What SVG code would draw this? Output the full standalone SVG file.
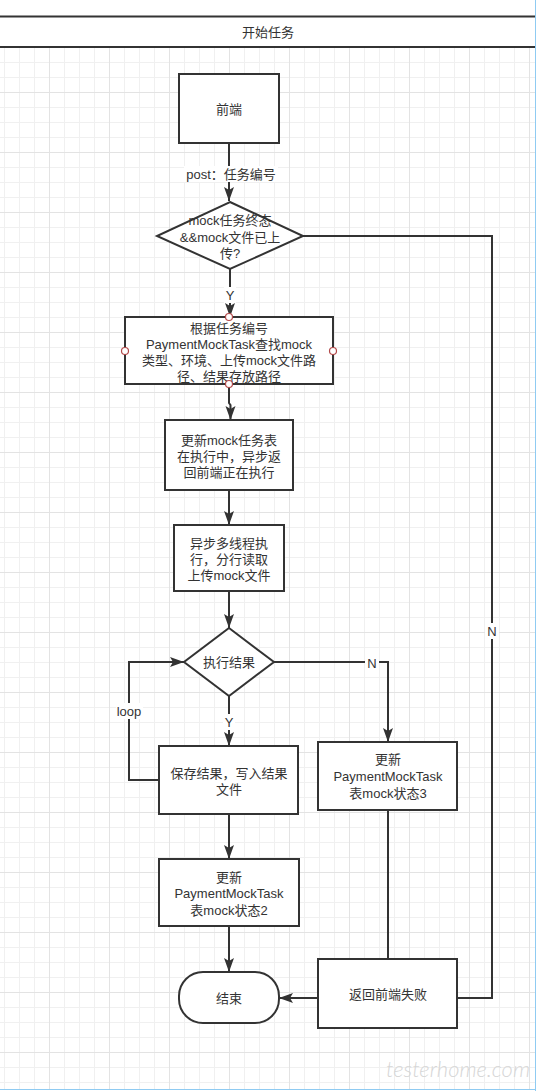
<svg xmlns="http://www.w3.org/2000/svg" width="536" height="1091" viewBox="0 0 536 1091">
<style>
.node rect,.node polygon{fill:#fff;stroke:#333;stroke-width:2}
text{font-family:"Liberation Sans","Noto Sans CJK SC",sans-serif;font-size:13px;fill:#333;text-anchor:middle;dominant-baseline:central}
.conn path{fill:none;stroke:#333;stroke-width:2}
.lbl{fill:#fff}
.pt{fill:#fff;stroke:#b34a4a;stroke-width:1.2}
</style>
<defs>
<pattern id="grid" patternUnits="userSpaceOnUse" x="49" y="32" width="60" height="60">
<rect x="0" y="0" width="60" height="60" fill="#fff"/>
<rect x="15" y="0" width="1" height="60" fill="#f0f0f0"/>
<rect x="30" y="0" width="1" height="60" fill="#f0f0f0"/>
<rect x="45" y="0" width="1" height="60" fill="#f0f0f0"/>
<rect x="0" y="15" width="60" height="1" fill="#f0f0f0"/>
<rect x="0" y="30" width="60" height="1" fill="#f0f0f0"/>
<rect x="0" y="45" width="60" height="1" fill="#f0f0f0"/>
<rect x="0" y="0" width="1" height="60" fill="#e3e3e3"/>
<rect x="0" y="0" width="60" height="1" fill="#e3e3e3"/>
</pattern>
<marker id="arr" markerUnits="userSpaceOnUse" markerWidth="16" markerHeight="12" refX="14" refY="5" orient="auto">
<path d="M0,0 L14,5 L0,10 L3,5 Z" fill="#333"/>
</marker>
</defs>
<rect x="0" y="0" width="536" height="1091" fill="#fff"/>
<rect x="0" y="48" width="535" height="1041" fill="url(#grid)"/>
<line x1="535.5" y1="0" x2="535.5" y2="1091" stroke="#8fcbf2" stroke-width="1"/>
<line x1="0" y1="1089.5" x2="536" y2="1089.5" stroke="#8fcbf2" stroke-width="1"/>

<g id="header">
<line x1="0" y1="16.5" x2="535" y2="16.5" stroke="#333" stroke-width="2"/>
<line x1="0" y1="47" x2="535" y2="47" stroke="#333" stroke-width="2"/>
<text x="268" y="32">开始任务</text>
</g>

<g id="watermark">
<text x="458" y="1068" style="font-family:Lato,'DejaVu Sans',sans-serif;font-size:22px;font-weight:300;font-style:italic;fill:#d6d6d6" textLength="144" lengthAdjust="spacingAndGlyphs">testerhome.com</text>
</g>

<g id="connectors" class="conn">
<path d="M229,143 V201" marker-end="url(#arr)"/>
<path d="M230,269 V317" marker-end="url(#arr)"/>
<path d="M229,384 V403 L230.5,405 V420" marker-end="url(#arr)"/>
<path d="M229,490 V525" marker-end="url(#arr)"/>
<path d="M229,591 V628" marker-end="url(#arr)"/>
<path d="M229,696 V746" marker-end="url(#arr)"/>
<path d="M274,662 H388 V742" marker-end="url(#arr)"/>
<path d="M159,780 H129 V662 H184" marker-end="url(#arr)"/>
<path d="M229,814 V859" marker-end="url(#arr)"/>
<path d="M229,926 V972" marker-end="url(#arr)"/>
<path d="M318,998 H279" marker-end="url(#arr)"/>
<path d="M388,810 V959"/>
<path d="M303,236 H492 V998 H457"/>
<rect class="lbl" x="184" y="166" width="94" height="16"/>
<text x="231" y="174">post：任务编号</text>
<rect class="lbl" x="224" y="287" width="12" height="16"/>
<text x="230" y="295">Y</text>
<rect class="lbl" x="223" y="714" width="12" height="16"/>
<text x="229" y="722">Y</text>
<rect class="lbl" x="365" y="655" width="14" height="16"/>
<text x="372" y="663">N</text>
<rect class="lbl" x="485" y="623" width="14" height="16"/>
<text x="492" y="631">N</text>
<rect class="lbl" x="116" y="703" width="27" height="16"/>
<text x="129" y="711">loop</text>
</g>

<g id="n-frontend" class="node">
<rect x="179" y="74" width="100" height="69"/>
<text x="229" y="109">前端</text>
</g>

<g id="n-check" class="node">
<polygon points="230,202 303,236 230,269 157,236"/>
<text x="230" y="220">mock任务终态</text>
<text x="230" y="237">&amp;&amp;mock文件已上</text>
<text x="230" y="253">传?</text>
</g>

<g id="n-lookup" class="node">
<rect x="125" y="317" width="208" height="67"/>
<text x="229" y="328">根据任务编号</text>
<text x="229" y="344.3">PaymentMockTask查找mock</text>
<text x="229" y="360.5">类型、环境、上传mock文件路</text>
<text x="229" y="376.8">径、结果存放路径</text>
<circle class="pt" cx="229" cy="317" r="3.5"/>
<circle class="pt" cx="333" cy="351" r="3.5"/>
<circle class="pt" cx="229" cy="384" r="3.5"/>
<circle class="pt" cx="125" cy="351" r="3.5"/>
</g>

<g id="n-update-running" class="node">
<rect x="165" y="420" width="128" height="70"/>
<text x="229" y="440">更新mock任务表</text>
<text x="229" y="456">在执行中，异步返</text>
<text x="229" y="472">回前端正在执行</text>
</g>

<g id="n-async" class="node">
<rect x="174" y="525" width="110" height="66"/>
<text x="229" y="543">异步多线程执</text>
<text x="229" y="559">行，分行读取</text>
<text x="229" y="575">上传mock文件</text>
</g>

<g id="n-result" class="node">
<polygon points="229,628 274,662 229,696 184,662"/>
<text x="229" y="662">执行结果</text>
</g>

<g id="n-save" class="node">
<rect x="159" y="746" width="139" height="68"/>
<text x="229" y="773">保存结果，写入结果</text>
<text x="229" y="789">文件</text>
</g>

<g id="n-state3" class="node">
<rect x="318" y="742" width="139" height="68"/>
<text x="388" y="759">更新</text>
<text x="388" y="776">PaymentMockTask</text>
<text x="388" y="793">表mock状态3</text>
</g>

<g id="n-state2" class="node">
<rect x="159" y="859" width="140" height="67"/>
<text x="229" y="877">更新</text>
<text x="229" y="893">PaymentMockTask</text>
<text x="229" y="910">表mock状态2</text>
</g>

<g id="n-end" class="node">
<rect x="179" y="972" width="100" height="51" rx="24" ry="24"/>
<text x="229" y="998">结束</text>
</g>

<g id="n-fail" class="node">
<rect x="318" y="959" width="139" height="69"/>
<text x="388" y="994">返回前端失败</text>
</g>
</svg>
